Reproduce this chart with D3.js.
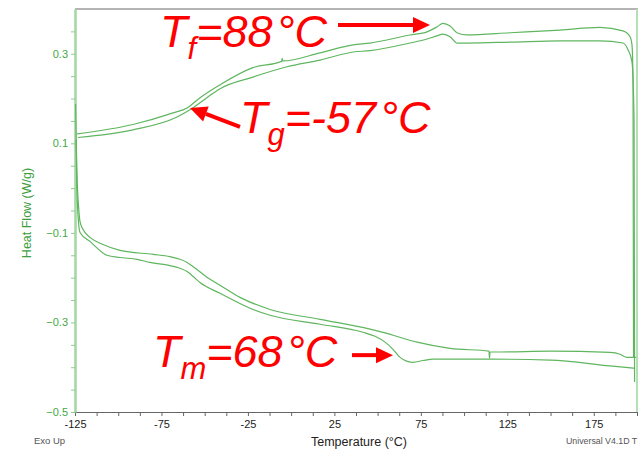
<!DOCTYPE html>
<html>
<head>
<meta charset="utf-8">
<script src="https://cdn.jsdelivr.net/npm/d3@7"></script>
<style>
body { margin: 0; background: #fff; }
text { font-family: "Liberation Sans", Arial, sans-serif; }
</style>
</head>
<body>
<svg id="chart" width="640" height="449"></svg>
<script>
// heating / cooling traces, [temperature °C, heat flow W/g]
const upperRunA = [[-123.8,0.121],[-91.5,0.142],[-68.3,0.168],[-60.2,0.179],[-52.7,0.202],[-41.1,0.231],[-22.1,0.269],[-5.5,0.283],[-5.2,0.290],[-4.9,0.284],[16.7,0.302],[35.8,0.320],[45.6,0.324],[68.7,0.342],[78.6,0.349],[84.3,0.360],[87.8,0.368],[91.9,0.362],[95.9,0.347],[101.7,0.342],[126.6,0.347],[155.5,0.353],[178.6,0.359],[191.9,0.351],[196.0,0.338],[197.1,0.320],[197.7,0.242],[198.0,-0.378]];
const upperRunB = [[-123.3,0.113],[-91.5,0.130],[-66.0,0.159],[-58.5,0.175],[-48.7,0.202],[-41.1,0.222],[-22.1,0.248],[-2.4,0.271],[16.7,0.286],[35.8,0.304],[45.6,0.307],[68.7,0.324],[78.6,0.333],[84.3,0.340],[87.8,0.344],[91.9,0.338],[95.9,0.324],[101.7,0.324],[126.6,0.326],[155.5,0.329],[178.6,0.329],[191.9,0.324],[194.8,0.309],[197.1,0.282],[198.3,0.153],[198.6,-0.433]];
const lowerRunA = [[-124.7,0.188],[-124.2,0.086],[-123.7,0.012],[-123.0,-0.037],[-122.1,-0.075],[-120.4,-0.092],[-116.3,-0.110],[-108.8,-0.126],[-99.0,-0.139],[-79.9,-0.148],[-70.1,-0.153],[-64.3,-0.159],[-60.2,-0.166],[-56.8,-0.175],[-48.7,-0.199],[-41.1,-0.217],[-29.6,-0.244],[-12.2,-0.271],[16.7,-0.293],[45.6,-0.315],[53.1,-0.322],[72.8,-0.344],[91.9,-0.358],[114.4,-0.364],[114.7,-0.380],[115.0,-0.366],[120.8,-0.366],[149.7,-0.364],[184.4,-0.367],[190.2,-0.371],[194.2,-0.378],[199.4,-0.378]];
const lowerRunB = [[-124.4,0.108],[-124.0,0.008],[-123.6,-0.037],[-123.0,-0.075],[-122.1,-0.099],[-116.3,-0.119],[-106.5,-0.150],[-99.0,-0.155],[-89.1,-0.159],[-81.6,-0.166],[-70.1,-0.173],[-64.3,-0.179],[-60.2,-0.186],[-56.8,-0.197],[-52.7,-0.211],[-41.1,-0.235],[-22.1,-0.271],[-12.2,-0.284],[16.7,-0.304],[41.5,-0.322],[48.5,-0.331],[54.3,-0.344],[58.9,-0.360],[63.0,-0.378],[67.1,-0.387],[70.5,-0.389],[76.3,-0.385],[82.0,-0.382],[115.0,-0.382],[149.7,-0.384],[184.4,-0.397],[198.3,-0.402]];

const xLabelTicks = [-125, -75, -25, 25, 75, 125, 175];
const yLabelTicks = [-0.5, -0.3, -0.1, 0.1, 0.3];

// transitions marked on the plot
const transSub = ["f", "g", "m"];
const transTemp = [88, -57, 68];

const svg = d3.select("#chart");
const pLeft = 75, pRight = 637, pTop = 9, pBottom = 412;

const x = d3.scaleLinear().domain([-125, 200]).range([pLeft, pRight]);
const y = d3.scaleLinear().domain([-0.5, 0.4]).range([pBottom, pTop]);

// frame: grey top, light green right
svg.append("line").attr("x1", pLeft).attr("x2", pRight + 1).attr("y1", pTop).attr("y2", pTop)
  .attr("stroke", "#b4b4b4").attr("stroke-width", 2);
svg.append("line").attr("x1", pRight).attr("x2", pRight).attr("y1", pTop).attr("y2", pBottom)
  .attr("stroke", "#b5dfb5").attr("stroke-width", 2);

// x axis
const xMinor = d3.range(-125, 200.1, 12.5);
const xAxis = svg.append("g").attr("transform", `translate(0,${pBottom})`)
  .call(d3.axisBottom(x).tickValues(xMinor).tickSize(4).tickSizeOuter(0)
    .tickFormat(d => xLabelTicks.includes(d) ? d : ""));
xAxis.select(".domain").attr("stroke", "#666");
xAxis.selectAll(".tick line").attr("stroke", "#666");
xAxis.selectAll(".tick text").attr("font-size", 11).attr("fill", "#222").attr("dy", "0.8em")
  .attr("font-family", "Liberation Sans, Arial, sans-serif");

// y axis
const yMinor = d3.range(-0.5, 0.36, 0.05);
const isLabel = d => yLabelTicks.some(v => Math.abs(v - d) < 1e-6);
const yAxis = svg.append("g").attr("transform", `translate(${pLeft},0)`)
  .call(d3.axisLeft(y).tickValues(yMinor).tickSize(4).tickSizeOuter(0)
    .tickFormat(d => isLabel(d) ? d3.format(".1f")(d) : ""));
yAxis.select(".domain").attr("stroke", "#a6d8a6").attr("stroke-width", 2.6);
yAxis.selectAll(".tick line").attr("stroke", "#8fcc8f");
yAxis.selectAll(".tick text").attr("font-size", 11).attr("fill", "#44a844").attr("x", -7)
  .attr("font-family", "Liberation Sans, Arial, sans-serif");

// traces
const line = d3.line().x(d => x(d[0])).y(d => y(d[1])).curve(d3.curveMonotoneX);
svg.append("g").selectAll("path")
  .data([upperRunA, upperRunB, lowerRunA, lowerRunB])
  .enter().append("path")
    .attr("d", line)
    .attr("fill", "none")
    .attr("stroke", "#5fb65f")
    .attr("stroke-width", 1.2);

// axis titles and footer
svg.append("text").attr("transform", "translate(31,213) rotate(-90)")
  .attr("text-anchor", "middle").attr("font-size", 12.5).attr("fill", "#3d9e3d")
  .text("Heat Flow (W/g)");
svg.append("text").attr("x", 359).attr("y", 446).attr("text-anchor", "middle")
  .attr("font-size", 12.5).attr("fill", "#222").text("Temperature (°C)");
svg.append("text").attr("x", 34).attr("y", 444).attr("font-size", 9.5).attr("fill", "#555").text("Exo Up");
svg.append("text").attr("x", 566).attr("y", 444).attr("font-size", 8.8).attr("fill", "#555").text("Universal V4.1D T");

// annotations: text start / arrow in data coords
const annoText = [[-75.8, 0.315], [-29.6, 0.124], [-79.9, -0.400]];
const arrows = [[27.1, 0.364, 80.3, 0.364], [-29.6, 0.137, -58.5, 0.179], [35.2, -0.373, 58.9, -0.373]];

transSub.forEach((s, i) => {
  const t = svg.append("text")
    .attr("x", x(annoText[i][0])).attr("y", y(annoText[i][1]))
    .attr("fill", "#ff0000").attr("font-style", "italic").attr("font-size", 45);
  t.append("tspan").text("T");
  t.append("tspan").attr("font-size", 31).attr("dy", 12).text(s);
  t.append("tspan").attr("dy", -12).text("=" + transTemp[i]);
  t.append("tspan").attr("dx", 4).text("°C");

  const [x0, y0, x1, y1] = [x(arrows[i][0]), y(arrows[i][1]), x(arrows[i][2]), y(arrows[i][3])];
  const a = Math.atan2(y1 - y0, x1 - x0), hl = 17, hw = 8;
  const bx = x1 - hl * Math.cos(a), by = y1 - hl * Math.sin(a);
  svg.append("line").attr("x1", x0).attr("y1", y0).attr("x2", bx).attr("y2", by)
    .attr("stroke", "#ff0000").attr("stroke-width", 4);
  svg.append("polygon")
    .attr("points", [[x1, y1], [bx + hw * Math.sin(a), by - hw * Math.cos(a)], [bx - hw * Math.sin(a), by + hw * Math.cos(a)]].join(" "))
    .attr("fill", "#ff0000");
});
</script>
</body>
</html>
